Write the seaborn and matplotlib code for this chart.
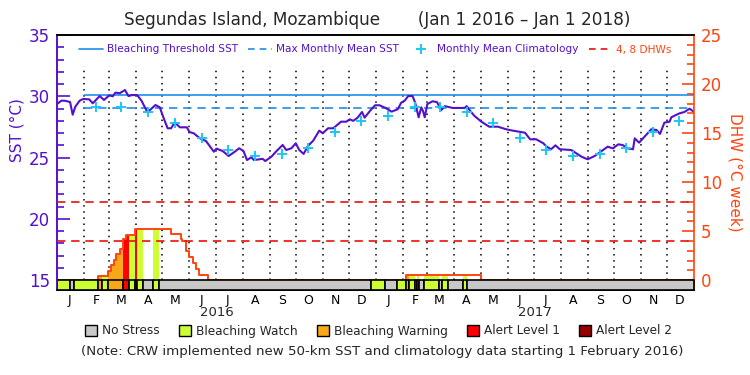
"""
Segundas Island, Mozambique - CRW virtual station chart
SST with bleaching thresholds (left axis) and Degree Heating Weeks (right axis)
"""

import pandas as pd
import matplotlib
matplotlib.use("Agg")
import matplotlib.pyplot as plt
import matplotlib.transforms as mtransforms
from matplotlib.lines import Line2D
from matplotlib.patches import Patch
from matplotlib.ticker import MultipleLocator
import seaborn as sns

# ---- data ----
sst_dates = [
    '2016-01-01', '2016-01-06', '2016-01-10', '2016-01-16', '2016-01-19', '2016-01-22', '2016-01-27', '2016-01-31',
    '2016-02-07', '2016-02-11', '2016-02-19', '2016-02-24',
    '2016-03-01', '2016-03-05', '2016-03-08', '2016-03-13', '2016-03-19', '2016-03-23', '2016-03-27',
    '2016-04-02', '2016-04-07', '2016-04-13', '2016-04-17', '2016-04-23', '2016-04-28',
    '2016-05-02', '2016-05-07', '2016-05-11', '2016-05-15', '2016-05-21', '2016-05-29',
    '2016-06-01', '2016-06-06', '2016-06-13', '2016-06-20', '2016-06-29',
    '2016-07-02', '2016-07-09', '2016-07-16', '2016-07-23', '2016-07-28',
    '2016-08-02', '2016-08-06', '2016-08-11', '2016-08-14', '2016-08-24', '2016-08-27',
    '2016-09-03', '2016-09-09', '2016-09-16', '2016-09-20', '2016-09-26',
    '2016-10-01', '2016-10-05', '2016-10-10', '2016-10-15', '2016-10-21', '2016-10-28',
    '2016-11-01', '2016-11-07', '2016-11-13', '2016-11-22', '2016-11-28',
    '2016-12-02', '2016-12-06', '2016-12-11', '2016-12-16', '2016-12-19', '2016-12-26', '2016-12-31',
    '2017-01-05', '2017-01-12', '2017-01-19', '2017-01-26', '2017-01-30',
    '2017-02-03', '2017-02-07', '2017-02-12', '2017-02-15', '2017-02-17', '2017-02-19', '2017-02-22', '2017-02-24', '2017-02-26',
    '2017-03-01', '2017-03-07', '2017-03-12', '2017-03-17', '2017-03-21', '2017-03-27', '2017-03-30',
    '2017-04-13', '2017-04-15', '2017-04-19', '2017-04-24',
    '2017-05-02', '2017-05-11', '2017-05-21', '2017-05-31',
    '2017-06-07', '2017-06-15', '2017-06-21', '2017-06-27',
    '2017-07-04', '2017-07-12', '2017-07-16', '2017-07-21', '2017-07-26', '2017-07-31',
    '2017-08-13', '2017-08-19', '2017-08-25',
    '2017-09-01', '2017-09-09', '2017-09-17', '2017-09-24', '2017-09-30',
    '2017-10-06', '2017-10-11', '2017-10-17', '2017-10-23', '2017-10-25', '2017-10-30',
    '2017-11-07', '2017-11-13', '2017-11-19', '2017-11-23', '2017-11-28',
    '2017-12-04', '2017-12-06', '2017-12-15', '2017-12-21', '2017-12-27', '2018-01-01',
]
sst_values = [
    29.37, 29.64, 29.64, 29.53, 28.50, 29.15, 29.64, 29.78,
    29.75, 29.43, 30.02, 29.70,
    30.08, 30.00, 30.30, 30.25, 30.51, 30.02, 30.10,
    30.10, 29.64, 28.80, 28.90, 29.29, 29.10,
    28.29, 27.39, 27.39, 27.88, 27.47, 27.47,
    27.09, 26.98, 26.57, 26.35, 25.48,
    25.73, 25.54, 25.13, 25.48, 25.76,
    25.54, 24.80, 25.02, 24.80, 24.90, 24.72,
    25.07, 25.54, 26.03, 25.62, 25.76,
    26.17, 25.62, 25.30, 25.95, 26.38, 27.20,
    26.98, 27.39, 27.39, 27.93, 27.93,
    28.12, 28.00, 28.26, 28.72, 28.26, 28.88, 29.27,
    29.27, 29.05, 28.75, 28.94, 29.48,
    29.64, 30.02, 30.02, 29.48, 28.88, 28.29, 29.10, 28.80, 28.29,
    29.37, 29.59, 29.53, 28.88, 29.20, 29.10, 29.05,
    29.05, 29.20, 28.83, 28.40,
    27.93, 27.52, 27.52, 27.30,
    27.20, 27.10, 27.03, 26.49,
    26.49, 26.17, 25.89, 25.68, 26.00, 25.68,
    25.62, 25.35, 25.07,
    24.86, 25.13, 25.54, 25.89, 25.75,
    26.08, 26.03, 25.75, 25.68, 26.57, 26.22,
    26.84, 27.31, 27.25, 26.93, 27.85,
    27.93, 28.29, 28.60, 28.72, 28.99, 28.72,
]

mmm_sst = 29.08
threshold_sst = 30.08
climatology_start = '2016-02-01'

clim_month = [1, 2, 3, 4, 5, 6, 7, 8, 9, 10, 11, 12]
clim_values = [28.42, 29.10, 29.10, 28.75, 27.80, 26.60, 25.60, 25.15, 25.30, 25.76, 27.05, 27.97]

dhw_dates = [
    '2016-01-01', '2016-02-17', '2016-02-29', '2016-03-03', '2016-03-06', '2016-03-09', '2016-03-13',
    '2016-03-17', '2016-03-20', '2016-03-31', '2016-05-11', '2016-05-22', '2016-05-24', '2016-05-28',
    '2016-06-01', '2016-06-05', '2016-06-08', '2016-06-12', '2016-06-22', '2017-02-05', '2017-05-02',
    '2018-01-01',
]
dhw_values = [0, 0.44, 0.95, 1.50, 2.04, 2.72, 3.23, 4.15, 4.56, 5.17, 4.66, 4.18, 3.98, 2.96,
              2.38, 1.77, 1.12, 0.58, 0, 0.51, 0, 0]
dhw_levels = [4, 8]

# alert status: segment edges and level (0 none, 1 watch, 2 warning, 3 alert 1, 4 alert 2)
alert_edges = [
    '2016-01-01', '2016-01-16', '2016-01-20', '2016-02-17', '2016-02-22', '2016-02-29', '2016-03-17',
    '2016-03-24', '2016-03-30', '2016-04-02', '2016-04-09', '2016-04-20', '2016-04-27', '2016-12-26',
    '2017-01-11', '2017-01-25', '2017-02-05', '2017-02-08', '2017-02-15', '2017-02-17', '2017-02-19',
    '2017-02-25', '2017-03-14', '2017-03-18', '2017-03-25', '2017-04-11', '2017-04-15', '2018-01-01',
]
alert_level = [1, 0, 1, 2, 1, 2, 3, 1, 3, 1, 0, 1, 0, 1, 0, 1, 2, 1, 0, 1, 0, 1, 0, 1, 0, 1, 0]

alert_names = ['No Stress', 'Bleaching Watch', 'Bleaching Warning', 'Alert Level 1', 'Alert Level 2']
alert_colors = ['#c8c8c8', '#ccff33', '#faa818', '#ff0000', '#960000']

month_letters = list('JFMAMJJASOND') * 2
years = [2016, 2017]

# ---- colours ----
purple = '#5510cc'
blue = '#1e8ee6'
cyan = '#1cc6f6'
orange = '#ff4410'
red = '#e81008'

sns.set_theme(style='white')
plt.rcParams['font.family'] = ['DejaVu Sans']

start, end = pd.Timestamp('2016-01-01'), pd.Timestamp('2018-01-01')

fig = plt.figure(figsize=(7.5, 3.75), dpi=100)
ax = fig.add_axes([57 / 750, 1 - 290 / 375, 637 / 750, 255 / 375])
ax2 = ax.twinx()

ax.set_xlim(start, end)
ax.set_ylim(14.2, 35)
ax2.set_ylim(-1.0, 25)

# month boundary dotted lines
month_starts = pd.date_range('2016-02-01', '2017-12-01', freq='MS')
ax.vlines(month_starts, 15, 32.5, colors='black', linestyles=(0, (1, 3)), lw=1.1, zorder=1)

# thresholds
ax.hlines(threshold_sst, pd.Timestamp(climatology_start), end, colors=blue, lw=1.2, zorder=2)
ax.hlines(mmm_sst, pd.Timestamp(climatology_start), end, colors=blue, lw=1.2,
          linestyles=(0, (5, 3.5)), zorder=2)

# SST line
sst_df = pd.DataFrame({'date': pd.to_datetime(sst_dates), 'sst': sst_values})
sns.lineplot(data=sst_df, x='date', y='sst', ax=ax, color=purple, lw=1.5,
             estimator=None, sort=False, zorder=4)

# monthly mean climatology crosses (15th of each month)
clim_dates = pd.date_range(climatology_start, '2017-12-01', freq='MS') + pd.Timedelta(days=14)
clim_lookup = dict(zip(clim_month, clim_values))
clim_df = pd.DataFrame({'date': clim_dates, 'clim': [clim_lookup[d.month] for d in clim_dates]})
sns.scatterplot(data=clim_df, x='date', y='clim', ax=ax, marker='+', s=48,
                color=cyan, linewidth=1.4, zorder=5)

# DHW: fills coloured by alert status, alert band, outline
dhw = pd.Series(dhw_values, index=pd.to_datetime(dhw_dates))
dhw_daily = dhw.resample('D').ffill()
edges = pd.to_datetime(alert_edges)
for s, e, lev in zip(edges[:-1], edges[1:], alert_level):
    ax2.fill_between([s, e], -1, 0, facecolor=alert_colors[lev], edgecolor='black', lw=1.2, zorder=4)
    if lev > 0:
        seg = dhw_daily[s:e]
        ax2.fill_between(seg.index, 0, seg.values, step='post', color=alert_colors[lev], lw=0, zorder=2)

ax2.step(dhw.index, dhw.values, where='post', color=orange, lw=1.4, zorder=3)
ax2.hlines(dhw_levels, start, end, colors=red, lw=1.2, linestyles=(0, (5, 3.5)), zorder=3)

# ---- axes styling ----
ax.set_xlabel('')
ax.set_ylabel('')
ax.set_yticks([15, 20, 25, 30, 35])
ax.yaxis.set_minor_locator(MultipleLocator(1))
ax.tick_params(axis='y', which='both', direction='in', colors=purple, width=1.2,
               labelsize=12, pad=5, left=True, right=False)
ax.tick_params(axis='y', which='major', length=9)
ax.tick_params(axis='y', which='minor', length=5)

mid_months = pd.date_range('2016-01-01', '2017-12-01', freq='MS') + pd.Timedelta(days=14)
ax.set_xticks(mid_months)
ax.set_xticklabels(month_letters)
ax.tick_params(axis='x', length=0, labelsize=9, pad=3, colors='black')

ax2.set_yticks([0, 5, 10, 15, 20, 25])
ax2.yaxis.set_minor_locator(MultipleLocator(1))
ax2.tick_params(axis='y', which='both', direction='in', colors=orange, width=1.2,
                labelsize=12, pad=5, right=True, left=False)
ax2.tick_params(axis='y', which='major', length=9)
ax2.tick_params(axis='y', which='minor', length=5)

for a in (ax, ax2):
    for sp in a.spines.values():
        sp.set_visible(True)
        sp.set_linewidth(1.2)
        sp.set_color('black')
    a.grid(False)
ax2.spines['left'].set_color(purple)
ax2.spines['right'].set_color(orange)
ax.spines['left'].set_color(purple)
ax.spines['right'].set_visible(False)

# year labels
trans = mtransforms.blended_transform_factory(ax.transData, ax.transAxes)
for yr in years:
    ax.text(pd.Timestamp(f'{yr}-07-02'), -0.09, str(yr), transform=trans,
            ha='center', va='center', fontsize=9.5)

# top legend
handles = [
    Line2D([], [], color=blue, lw=1.2, label='Bleaching Threshold SST'),
    Line2D([], [], color=blue, lw=1.2, ls=(0, (4, 3)), label='Max Monthly Mean SST'),
    Line2D([], [], color=cyan, marker='+', ls='none', ms=7, mew=1.4, label='Monthly Mean Climatology'),
    Line2D([], [], color=red, lw=1.2, ls=(0, (4, 3)), label='4, 8 DHWs'),
]
ax2.legend(handles=handles, loc='upper center', bbox_to_anchor=(0.5, 1.0), ncol=4,
           frameon=False, fontsize=7.6, handlelength=2.2, handletextpad=0.4,
           columnspacing=1.0, labelcolor=[purple, purple, purple, orange])

# bottom alert legend
patches = [Patch(facecolor=c, edgecolor='black', lw=1, label=n) for n, c in zip(alert_names, alert_colors)]
fig.legend(handles=patches, loc='center', bbox_to_anchor=(0.505, 1 - 331 / 375), ncol=5,
           frameon=False, fontsize=8.7, handlelength=1.0, handleheight=1.0,
           handletextpad=0.4, columnspacing=1.6)

fig.text(0.503, 1 - 20 / 375, 'Segundas Island, Mozambique       (Jan 1 2016 \u2013 Jan 1 2018)',
         ha='center', va='center', fontsize=12.2)
fig.text(0.51, 1 - 352 / 375,
         '(Note: CRW implemented new 50-km SST and climatology data starting 1 February 2016)',
         ha='center', va='center', fontsize=9.6)
fig.text(17 / 750, 1 - 130 / 375, 'SST (\u00b0C)', rotation=90, ha='center', va='center',
         fontsize=11, color=purple)
fig.text(735 / 750, 1 - 172 / 375, 'DHW (\u00b0C week)', rotation=270, ha='center', va='center',
         fontsize=11, color=orange)

fig.savefig('out.png', dpi=100, facecolor='white')
